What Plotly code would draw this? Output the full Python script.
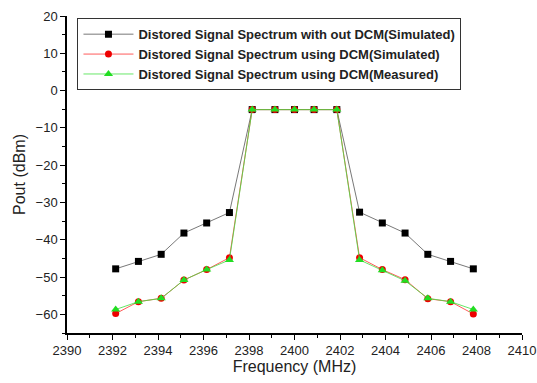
import plotly.graph_objects as go

freq = [2392.14, 2393.14, 2394.14, 2395.14, 2396.14, 2397.14, 2398.14, 2399.14, 2400.0,
        2400.86, 2401.86, 2402.86, 2403.86, 2404.86, 2405.86, 2406.86, 2407.86]
no_dcm_sim = [-47.8, -45.8, -43.9, -38.2, -35.5, -32.7, -5.1, -5.1, -5.1,
              -5.1, -5.1, -32.6, -35.5, -38.2, -43.9, -45.8, -47.8]
dcm_sim = [-59.8, -56.6, -55.7, -50.8, -48.0, -44.8, -5.1, -5.1, -5.1,
           -5.1, -5.1, -44.8, -48.0, -50.7, -55.8, -56.6, -59.9]
dcm_meas = [-58.7, -56.6, -55.7, -50.8, -48.0, -45.4, -5.1, -5.1, -5.1,
            -5.1, -5.1, -45.4, -48.2, -51.0, -55.7, -56.6, -58.7]

names = ["Distored Signal Spectrum with out DCM(Simulated)",
         "Distored Signal Spectrum using DCM(Simulated)",
         "Distored Signal Spectrum using DCM(Measured)"]

FONT = "Liberation Sans, Arial"

fig = go.Figure()
fig.add_trace(go.Scatter(x=freq, y=no_dcm_sim, name=names[0], mode="lines+markers",
                         line=dict(color="#555555", width=0.8),
                         marker=dict(symbol="square", size=7, color="black")))
fig.add_trace(go.Scatter(x=freq, y=dcm_sim, name=names[1], mode="lines+markers",
                         line=dict(color="#ff3030", width=0.8),
                         marker=dict(symbol="circle", size=7, color="#ee0000")))
fig.add_trace(go.Scatter(x=freq, y=dcm_meas, name=names[2], mode="lines+markers",
                         line=dict(color="#40e040", width=0.8),
                         marker=dict(symbol="triangle-up", size=8, color="#22dd22")))

axis_common = dict(showline=True, linecolor="black", linewidth=1.5, ticks="outside",
                   ticklen=5, tickwidth=1.2, tickcolor="black", showgrid=False,
                   zeroline=False, mirror=False,
                   tickfont=dict(family=FONT, size=13, color="#222222"))

fig.update_xaxes(range=[2390, 2410], dtick=2, tick0=2390, automargin="bottom",
                 minor=dict(dtick=1, ticks="outside", ticklen=3, tickcolor="black", tickwidth=1),
                 title=dict(text="Frequency (MHz)", font=dict(family=FONT, size=16, color="#222222"), standoff=1),
                 **axis_common)
fig.update_yaxes(range=[-65, 20], dtick=10, tick0=0, automargin="left",
                 minor=dict(dtick=5, ticks="outside", ticklen=3, tickcolor="black", tickwidth=1),
                 title=dict(text="Pout (dBm)", font=dict(family=FONT, size=16, color="#222222"), standoff=6),
                 **axis_common)

fig.update_layout(
    width=537, height=383,
    margin=dict(l=67, r=15, t=16, b=50),
    plot_bgcolor="white", paper_bgcolor="white",
    legend=dict(x=0.023, y=0.993, xanchor="left", yanchor="top",
                bordercolor="#333333", borderwidth=1, bgcolor="white",
                font=dict(family=FONT, size=13, color="#222222", weight="bold"),
                tracegroupgap=0, itemwidth=50),
)

fig.write_html("out.html")
